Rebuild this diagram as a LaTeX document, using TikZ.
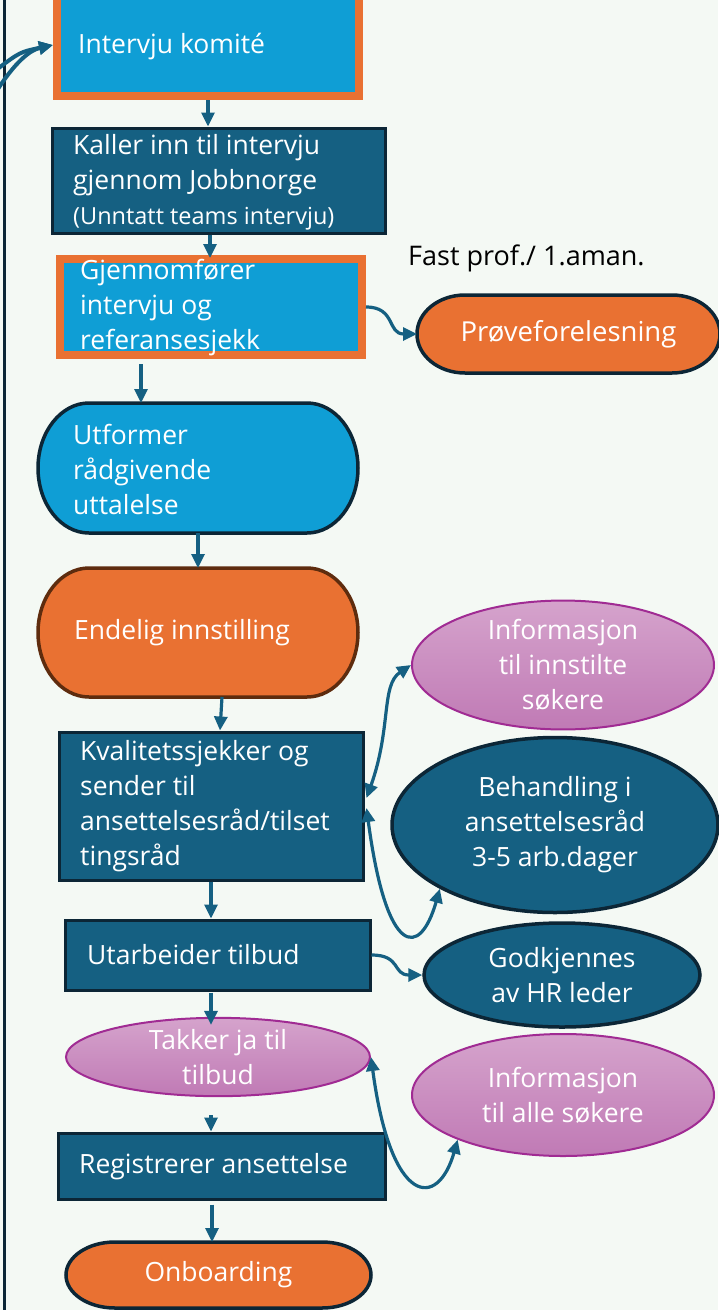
\documentclass[tikz,border=0pt]{standalone}
\usepackage{fontspec}
\setmainfont{Open Sans}
\usetikzlibrary{shapes.geometric,arrows.meta,calc}
\definecolor{bg}{HTML}{F4F9F4}
\definecolor{dkb}{HTML}{0C2636}
\definecolor{dblue}{HTML}{156082}
\definecolor{lblue}{HTML}{0F9ED5}
\definecolor{orng}{HTML}{E97132}
\definecolor{brwn}{HTML}{5E2C0E}
\definecolor{purp}{HTML}{A02B93}
\definecolor{pinkT}{HTML}{D5A3CC}
\definecolor{pinkB}{HTML}{C07AB5}
\newcommand\termpath[5]{%
  \path[draw=#5, fill=#4, line width=3.5pt]
    ([xshift=#2]#1.north west) -- ([xshift=-#2]#1.north east)
    arc[start angle=90,end angle=-90,x radius=#2,y radius=#3]
    -- ([xshift=#2]#1.south west)
    arc[start angle=270,end angle=90,x radius=#2,y radius=#3] -- cycle;}
\begin{document}
\begin{tikzpicture}[x=1pt,y=-1pt,
  rbox/.style={rectangle, draw=dkb, line width=3pt, fill=dblue, inner sep=0pt},
  obox/.style={rectangle, draw=orng, line width=8pt, fill=lblue, inner sep=0pt},
  plain/.style={rectangle, inner sep=0pt, outer sep=0pt},
  txt/.style={text=white, font=\fontsize{26.5}{35}\selectfont, align=left, inner sep=0pt, anchor=west},
  ctxt/.style={text=white, font=\fontsize{26.5}{35}\selectfont, align=center, inner sep=0pt},
  pinkell/.style={ellipse, draw=purp, line width=2pt, top color=pinkT, bottom color=pinkB, inner sep=0pt, text=white, align=center, font=\fontsize{26.5}{35}\selectfont},
  blueell/.style={ellipse, draw=dkb, line width=3.5pt, fill=dblue, inner sep=0pt, text=white, align=center, font=\fontsize{26.5}{35}\selectfont},
  arr/.style={draw=dblue, line width=3.2pt, -{Triangle[length=14pt,width=13pt]}},
  biarr/.style={draw=dblue, line width=3.2pt, {Triangle[length=14pt,width=13pt]}-{Triangle[length=14pt,width=13pt]}},
]
\useasboundingbox (0,0) rectangle (718,1310);
\fill[bg] (0,0) rectangle (718,1310);
\draw[dkb, line width=3pt] (4.5,-2) -- (4.5,1312);

% nodes
\node[obox, minimum width=302pt, minimum height=102pt] (intervju) at (208,45) {};
\node[txt] (intervjuT) at (78,47) {Intervju komité};

\node[rbox, minimum width=333pt, minimum height=105pt] (kaller) at (218.5,180.5) {};
\node[txt] (kallerT) at (73,182) {Kaller inn til intervju\\gjennom Jobbnorge\\{\fontsize{23.5}{35}\selectfont (Unntatt teams intervju)}};

\node[obox, minimum width=302pt, minimum height=96pt] (gjenn) at (211,307) {};
\node[txt] (gjennT) at (80,308) {Gjennomfører\\intervju og\\referansesjekk};

\node[text=black, font=\fontsize{27}{30}\selectfont, inner sep=0pt, anchor=west] (fast) at (408,258) {Fast prof./ 1.aman.};

\node[plain, minimum width=303pt, minimum height=78pt] (prove) at (568.5,334) {};
\termpath{prove}{48pt}{39pt}{orng}{dkb}
\node[ctxt, font=\fontsize{27.5}{35}\selectfont] (proveT) at (prove.center) {Prøveforelesning};

\node[plain, minimum width=320pt, minimum height=130pt] (utformer) at (198,468) {};
\termpath{utformer}{51pt}{65pt}{lblue}{dkb}
\node[txt] (utformerT) at (73,469) {Utformer\\rådgivende\\uttalelse};

\node[plain, minimum width=320pt, minimum height=129pt] (endelig) at (198,632.5) {};
\termpath{endelig}{51pt}{64.5pt}{orng}{brwn}
\node[txt] (endeligT) at (74,633) {Endelig innstilling};

\node[pinkell, minimum width=302pt, minimum height=124pt] (info1) at (563,665) {Informasjon\\til innstilte\\søkere};

\node[rbox, minimum width=304pt, minimum height=148pt] (kval) at (211,806) {};
\node[txt] (kvalT) at (80,806) {Kvalitetssjekker og\\sender til\\ansettelsesråd/tilset\\tingsråd};

\node[blueell, minimum width=326pt, minimum height=175pt] (behand) at (555,825) {Behandling i\\ansettelsesråd\\3-5 arb.dager};

\node[rbox, minimum width=305pt, minimum height=70pt] (utarb) at (217.5,955) {};
\node[txt] (utarbT) at (87,955) {Utarbeider tilbud};

\node[blueell, minimum width=276pt, minimum height=104pt] (godkj) at (562,975) {Godkjennes\\av HR leder};

\node[pinkell, minimum width=304pt, minimum height=64pt] (takker) at (218,1057) {Takker ja til\\tilbud};

\node[pinkell, minimum width=302pt, minimum height=122pt] (info2) at (563,1095) {Informasjon\\til alle søkere};

\node[rbox, minimum width=327pt, minimum height=66pt] (regist) at (221.5,1166) {};
\node[txt] (registT) at (79,1167) {Registrerer ansettelse};

\node[plain, minimum width=305pt, minimum height=66pt] (onboard) at (218.5,1275) {};
\termpath{onboard}{49pt}{33pt}{orng}{dkb}
\node[ctxt] (onboardT) at (onboard.center) {Onboarding};

% connectors
\coordinate (l1) at (-4,70);
\coordinate (l2) at (-4,92);
\draw[arr, line width=4pt] (l1) .. controls (20,52) .. (intervju.west);
\draw[arr, line width=4pt] (l2) .. controls (15,62) and (30,50) .. (intervju.west);

\draw[arr] (intervju.south) -- (intervju.south |- kaller.north);
\draw[arr] ($(kaller.south)+(-8.5,0)$) -- ($(gjenn.north)+(-1,3)$);
\draw[arr] (gjenn.east) .. controls +(30,0) and +(-30,0) .. (prove.west);
\draw[arr] ($(gjenn.south)+(-70,5)$) -- ($(utformer.north)+(-57,0)$);
\draw[arr] (utformer.south) -- (endelig.north);
\draw[arr] ($(endelig.south)+(24,0)$) -- ($(kval.north)+(9,0)$);
\draw[biarr] ($(kval.east)+(2,-8)$) .. controls +(25,-70) and +(-30,20) .. (info1.west);
\draw[biarr] ($(kval.east)+(2,2)$) .. controls +(20,150) and +(-20,70) .. (behand.209);
\draw[arr] (kval.south) -- (kval.south |- utarb.north);
\draw[arr] (utarb.east) .. controls +(30,0) and +(-30,0) .. (godkj.west);
\draw[arr] ($(utarb.south)+(-6.5,1)$) -- ($(takker.north)+(-7,8)$);
\draw[arr] ($(takker.south)+(-7,18)$) -- ($(regist.north)+(-10.5,0)$);
\draw[arr] ($(regist.south)+(-9.5,4)$) -- ($(onboard.north)+(-6.5,0)$);
\draw[biarr] (takker.east) .. controls +(20,150) and +(-20,70) .. (info2.203);
\end{tikzpicture}
\end{document}
